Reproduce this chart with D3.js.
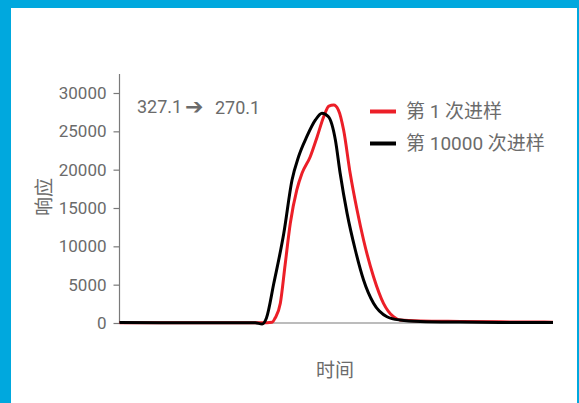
<!DOCTYPE html>
<html>
<head>
<meta charset="utf-8">
<script src="https://cdn.jsdelivr.net/npm/d3@7"></script>
<style>
  html, body { margin: 0; padding: 0; background: #fff; }
  svg { display: block; }
  text { font-family: Roboto, "Noto Sans CJK SC", sans-serif; fill: #6b6b6b; }
</style>
</head>
<body>
<svg id="chart" width="579" height="403"></svg>
<script>
// Chromatogram of the 327.1 -> 270.1 transition, first injection vs. injection 10000
const yTicks = [0, 5000, 10000, 15000, 20000, 25000, 30000];

// time (arbitrary units) for the first-injection trace
const timeFirst = [0, 1.87, 3.29, 3.52, 3.59, 3.71, 3.82, 3.94, 4.09, 4.21, 4.40, 4.56, 4.71, 4.83, 4.94,
  5.05, 5.17, 5.32, 5.48, 5.63, 5.86, 6.09, 6.32, 6.47, 6.94, 7.86, 8.78, 10];
const respFirst = [30, 30, 20, 90, 650, 2570, 7565, 13000, 17350, 19525, 21690, 24300, 26900, 28300, 28435,
  27780, 25170, 19565, 14740, 10825, 6040, 2570, 820, 390, 260, 200, 150, 110];

// time for the 10000th-injection trace
const timeLast = [0, 1.87, 3.13, 3.29, 3.39, 3.56, 3.79, 3.98, 4.13, 4.32, 4.52, 4.67, 4.82, 4.98,
  5.09, 5.25, 5.44, 5.63, 5.86, 6.17, 6.47, 6.94, 7.86, 8.78, 10];
const respLast = [50, 40, 40, -130, 650, 5180, 11700, 18650, 21690, 24300, 26480, 27350, 26900, 23870,
  19525, 14300, 9520, 5610, 2570, 820, 390, 200, 120, 80, 60];

const seriesNames = ["第 1 次进样", "第 10000 次进样"];
const seriesColors = ["#ec1f28", "#000000"];
const precursor = "327.1";
const product = "270.1";
const xTitle = "时间";
const yTitle = "响应";

const svg = d3.select("#chart");

// blue frame around the white panel
svg.append("rect").attr("x", 0).attr("y", 0).attr("width", 579).attr("height", 403).attr("fill", "#00a8de");
svg.append("rect").attr("x", 11).attr("y", 8).attr("width", 566).attr("height", 395).attr("fill", "#ffffff");

const x = d3.scaleLinear().domain([0, 10]).range([119.5, 553]);
const y = d3.scaleLinear().domain([0, 30000]).range([323, 93]);

// y axis
const yAxis = svg.append("g")
  .attr("transform", "translate(119.5,0)")
  .call(d3.axisLeft(y).tickValues(yTicks).tickFormat(d3.format("d"))
    .tickSize(6).tickPadding(7).tickSizeOuter(0));
yAxis.select(".domain").remove();
yAxis.append("line").attr("x1", 0).attr("x2", 0).attr("y1", 74).attr("y2", 323.5)
  .attr("stroke", "#7a7a7a").attr("stroke-width", 1.2);
yAxis.selectAll(".tick line").attr("stroke", "#7a7a7a").attr("stroke-width", 1.2);
yAxis.selectAll(".tick text").attr("font-size", 17).attr("fill", "#6b6b6b")
  .style("font-family", "Roboto, sans-serif");

// x axis baseline
svg.append("line").attr("x1", x(0)).attr("x2", x(10)).attr("y1", y(0)).attr("y2", y(0))
  .attr("stroke", "#7a7a7a").attr("stroke-width", 1.2);

const line = d3.line()
  .x(d => x(d[0]))
  .y(d => y(d[1]))
  .curve(d3.curveMonotoneX);

const traces = [
  d3.zip(timeFirst, respFirst),
  d3.zip(timeLast, respLast)
];

traces.forEach((pts, i) => {
  svg.append("path")
    .datum(pts)
    .attr("d", line)
    .attr("fill", "none")
    .attr("stroke", seriesColors[i])
    .attr("stroke-width", 3)
    .attr("stroke-linejoin", "round");
});

// legend
const legendY = [111.5, 143.5];
seriesNames.forEach((name, i) => {
  svg.append("line").attr("x1", 370).attr("x2", 396)
    .attr("y1", legendY[i]).attr("y2", legendY[i])
    .attr("stroke", seriesColors[i]).attr("stroke-width", 4);
  svg.append("text").attr("x", 406).attr("y", legendY[i])
    .attr("dy", "0.36em").attr("font-size", 19).text(name);
});

// transition label: precursor -> product ion
const trans = svg.append("text").attr("y", 107).attr("dy", "0.36em").attr("font-size", 18);
trans.append("tspan").attr("x", 137).text(precursor);
trans.append("tspan").attr("x", 185).attr("font-family", "'DejaVu Sans', sans-serif")
  .attr("font-size", 22).attr("dy", "0.03em").text("➔");
trans.append("tspan").attr("x", 215).attr("dy", "-0.03em").text(product);

// axis titles
svg.append("text").attr("x", 335).attr("y", 370).attr("dy", "0.36em")
  .attr("text-anchor", "middle").attr("font-size", 19).text(xTitle);
svg.append("text").attr("transform", "translate(44.5,197) rotate(-90)")
  .attr("dy", "0.36em").attr("text-anchor", "middle").attr("font-size", 19).text(yTitle);
</script>
</body>
</html>
